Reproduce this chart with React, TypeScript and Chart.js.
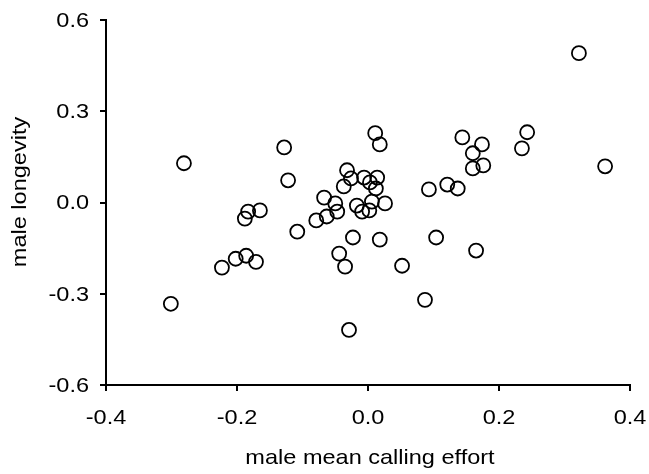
import React, { useEffect, useRef } from "react";
import { Chart, registerables } from "chart.js";

Chart.register(...registerables);

const callingEffort: number[] = [
  -0.301, -0.223, -0.202, -0.186, -0.171, -0.188, -0.183, -0.165, -0.122, -0.281,
  -0.128, -0.108, -0.079, -0.063, -0.067, -0.05, -0.047, -0.037, -0.032, -0.026,
  -0.023, -0.044, -0.035, -0.029, -0.017, -0.009, 0.002, 0.006, 0.026, 0.018,
  -0.006, 0.014, 0.003, 0.012, 0.011, 0.018, 0.052, 0.087, 0.104, 0.165,
  0.093, 0.121, 0.137, 0.144, 0.174, 0.16, 0.16, 0.176, 0.235, 0.243,
  0.322, 0.362,
];
const longevity: number[] = [
  -0.333, -0.214, -0.185, -0.175, -0.195, -0.053, -0.03, -0.026, 0.073, 0.129,
  0.181, -0.096, -0.059, -0.046, 0.016, -0.003, -0.03, 0.053, 0.106, 0.079,
  -0.115, -0.168, -0.211, -0.419, -0.01, -0.03, -0.026, 0.003, -0.003, -0.122,
  0.082, 0.082, 0.066, 0.046, 0.228, 0.191, -0.208, -0.32, -0.115, -0.158,
  0.043, 0.059, 0.046, 0.214, 0.191, 0.162, 0.112, 0.122, 0.178, 0.231,
  0.491, 0.119,
];
const xTicks: number[] = [-0.4, -0.2, 0.0, 0.2, 0.4];
const yTicks: number[] = [-0.6, -0.3, 0.0, 0.3, 0.6];
const xTitle = "male mean calling effort";
const yTitle = "male longevity";

const FONT = "'Liberation Sans', Arial, sans-serif";
const FONT_SIZE = 21;
const STRETCH = 1.12;

function stretchedText(ctx: CanvasRenderingContext2D, text: string, x: number, y: number, align: "left" | "center" | "right") {
  ctx.save();
  ctx.translate(x, y);
  ctx.scale(STRETCH, 1);
  ctx.textAlign = align;
  ctx.textBaseline = "middle";
  ctx.fillText(text, 0, 0);
  ctx.restore();
}

export default function App() {
  const ref = useRef<HTMLCanvasElement | null>(null);
  useEffect(() => {
    if (!ref.current) return;
    const points = callingEffort.map((x, i) => ({ x, y: longevity[i] }));
    const textPlugin = {
      id: "textPlugin",
      afterDraw(chart: any) {
        const ctx: CanvasRenderingContext2D = chart.ctx;
        const xs = chart.scales.x;
        const ys = chart.scales.y;
        ctx.save();
        ctx.font = `${FONT_SIZE}px ${FONT}`;
        ctx.fillStyle = "#000";
        xTicks.forEach((v) => {
          stretchedText(ctx, v.toFixed(1), xs.getPixelForValue(v), xs.top + 33, "center");
        });
        yTicks.forEach((v) => {
          stretchedText(ctx, v.toFixed(1), ys.right - 17, ys.getPixelForValue(v) + 1, "right");
        });
        stretchedText(ctx, xTitle, (xs.left + xs.right) / 2 + 2, 458, "center");
        ctx.save();
        ctx.translate(20, 192);
        ctx.rotate(-Math.PI / 2);
        stretchedText(ctx, yTitle, 0, 0, "center");
        ctx.restore();
        ctx.restore();
      },
    };
    const chart = new Chart(ref.current, {
      type: "scatter",
      data: {
        datasets: [
          {
            data: points,
            backgroundColor: "rgba(255,255,255,0)",
            borderColor: "#000",
            borderWidth: 1.8,
            pointRadius: 7,
            pointHoverRadius: 7,
          },
        ],
      },
      plugins: [textPlugin],
      options: {
        animation: false,
        responsive: false,
        maintainAspectRatio: false,
        layout: { padding: { left: 0, right: 19, top: 20, bottom: 0 } },
        plugins: {
          legend: { display: false },
          tooltip: { enabled: false },
        },
        scales: {
          x: {
            type: "linear",
            min: xTicks[0],
            max: xTicks[xTicks.length - 1],
            afterFit(scale: any) {
              scale.height = 89;
            },
            ticks: { stepSize: 0.2, display: false },
            grid: {
              drawOnChartArea: false,
              drawTicks: true,
              tickLength: 6,
              color: "#000",
              lineWidth: 2,
            },
            border: { color: "#000", width: 2 },
          },
          y: {
            type: "linear",
            min: yTicks[0],
            max: yTicks[yTicks.length - 1],
            afterFit(scale: any) {
              scale.width = 106;
            },
            ticks: { stepSize: 0.3, display: false },
            grid: {
              drawOnChartArea: false,
              drawTicks: true,
              tickLength: 6,
              color: "#000",
              lineWidth: 2,
            },
            border: { color: "#000", width: 2 },
          },
        },
      },
    });
    return () => chart.destroy();
  }, []);
  return (
    <div style={{ position: "fixed", left: 0, top: 0, width: 649, height: 474, background: "#fff" }}>
      <canvas ref={ref} width={649} height={474} style={{ width: 649, height: 474, display: "block" }} />
    </div>
  );
}
